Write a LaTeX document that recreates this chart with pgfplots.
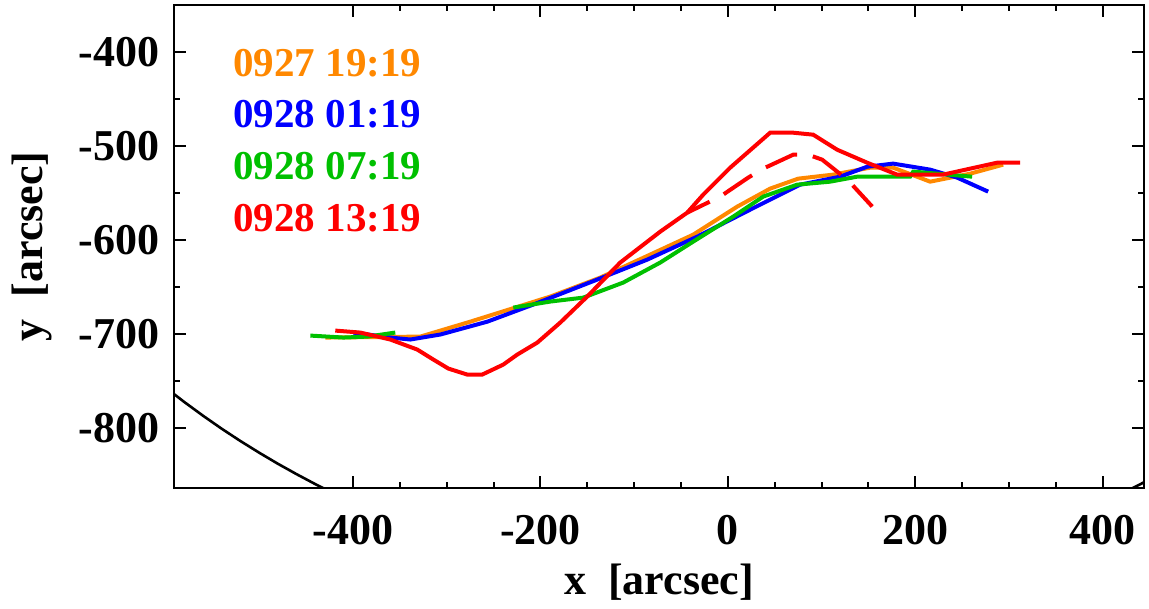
\documentclass[border=0pt]{standalone}
\usepackage{fontspec}
\setmainfont{Liberation Serif}
\usepackage{pgfplots}
\pgfplotsset{compat=1.18}
\definecolor{idlorange}{RGB}{255,136,0}
\definecolor{idlgreen}{RGB}{0,192,0}

\begin{document}
\begin{tikzpicture}
\path[use as bounding box] (-87pt,-60.5pt) rectangle (487.5pt,244pt);
\begin{axis}[
    at={(0,0)}, anchor=south west,
    scale only axis, width=485pt, height=241.5pt,
    xmin=-591, xmax=444, ymin=-864, ymax=-350,
    xtick={-400,-200,...,400}, ytick={-800,-700,...,-400},
    minor x tick num=3, minor y tick num=1,
    tick align=inside,
    major tick length=6pt, minor tick length=3pt,
    every tick/.style={black, line width=1pt},
    axis line style={line width=1.4pt},
    /pgf/number format/assume math mode=true,
    tick label style={font=\fontsize{22}{24}\selectfont\bfseries, inner sep=0pt},
    xticklabel shift=13.5pt, yticklabel shift=7pt,
    label style={font=\fontsize{22}{24}\selectfont\bfseries, inner sep=0pt},
    xlabel={x\ \ [arcsec]}, ylabel={y\ \ [arcsec]},
    xlabel style={at={(axis description cs:0.5,-0.2215)}, anchor=base},
    ylabel style={at={(axis description cs:-0.1351,0.5)}, anchor=base},
]
% solar limb
\addplot[black, line width=1.3pt] coordinates {
  (-600,-757.1) (-580,-772.5) (-560,-787.1) (-540,-801.0) (-520,-814.1)
  (-500,-826.5) (-480,-838.3) (-460,-849.4) (-440,-860.0) (-420,-869.9)};
\addplot[black, line width=1.3pt] coordinates {
  (420,-869.9) (440,-860.0) (460,-849.4)};

% 0927 19:19
\addplot[idlorange, line width=2pt] coordinates {
  (-429.5,-703.9) (-328.2,-702.9) (-274.9,-687.0) (-189.5,-660.3) (-136.2,-640.1)
  (-82.9,-615.6) (-37.0,-594.4) (9.9,-564.6) (45.1,-545.4) (75.0,-534.8)
  (112.3,-530.5) (151.8,-523.1) (176.3,-523.1) (215.8,-538.0) (258.5,-529.5)
  (293.7,-519.9)};

% 0928 01:19
\addplot[blue, line width=2pt] coordinates {
  (-399.7,-698.6) (-360.2,-703.9) (-338.9,-706.0) (-306.9,-700.7) (-256.7,-687.0)
  (-207.7,-668.8) (-139.4,-642.2) (-86.1,-621.0) (-32.7,-596.5) (23.8,-567.8)
  (77.1,-541.2) (119.8,-532.7) (148.6,-522.1) (176.3,-518.8) (215.8,-525.2)
  (244.6,-533.7) (277.7,-548.6)};

% 0928 07:19
\addplot[idlgreen, line width=2pt] coordinates {
  (-445.5,-701.8) (-410.3,-703.9) (-384.7,-702.9) (-354.9,-698.6)};
\addplot[idlgreen, line width=2pt] coordinates {
  (-229.0,-672.0) (-189.5,-665.6) (-154.3,-661.4) (-111.7,-645.4) (-72.2,-624.1)
  (-37.0,-601.8) (5.7,-575.2) (37.7,-553.9) (73.9,-541.2) (109.1,-538.0)
  (137.9,-532.7) (194.4,-532.7) (197.7,-527.3) (260.6,-532.7)};

% 0928 13:19
\addplot[red, line width=2pt] coordinates {
  (-418.9,-696.5) (-392.2,-698.6) (-360.2,-706.0) (-331.4,-716.7) (-314.3,-727.3)
  (-298.3,-736.9) (-278.1,-743.3) (-262.1,-743.3) (-239.7,-732.7) (-224.7,-722.0)
  (-203.4,-709.3) (-178.9,-688.0) (-150.1,-660.3) (-114.9,-624.1) (-72.2,-591.2)
  (-43.4,-571.0) (-26.3,-551.8) (2.5,-523.1) (45.1,-485.9) (69.7,-485.9)
  (91.0,-488.0) (116.6,-504.0) (148.6,-517.8) (180.6,-530.5) (229.7,-530.5)
  (287.3,-517.8) (311.8,-517.8)};
\addplot[red, line width=2pt, dash pattern=on 17pt off 8pt, dash phase=4.5pt] coordinates {
  (-43.4,-571.0) (-8.2,-553.9) (21.7,-533.7) (37.7,-524.1) (69.7,-509.3)
  (85.7,-509.3) (100.6,-514.6) (116.6,-527.3) (130.5,-539.0) (154.0,-564.5)};

\begin{scope}[every node/.style={anchor=base west, inner sep=0pt,
    font=\fontsize{20.5}{22}\selectfont\bfseries}]
\node[text=idlorange] at (axis cs:-528,-426.3) {0927 19:19};
\node[text=blue]      at (axis cs:-528,-480.6) {0928 01:19};
\node[text=idlgreen]  at (axis cs:-528,-535.9) {0928 07:19};
\node[text=red]       at (axis cs:-528,-591.2) {0928 13:19};
\end{scope}
\end{axis}
\end{tikzpicture}
\end{document}
